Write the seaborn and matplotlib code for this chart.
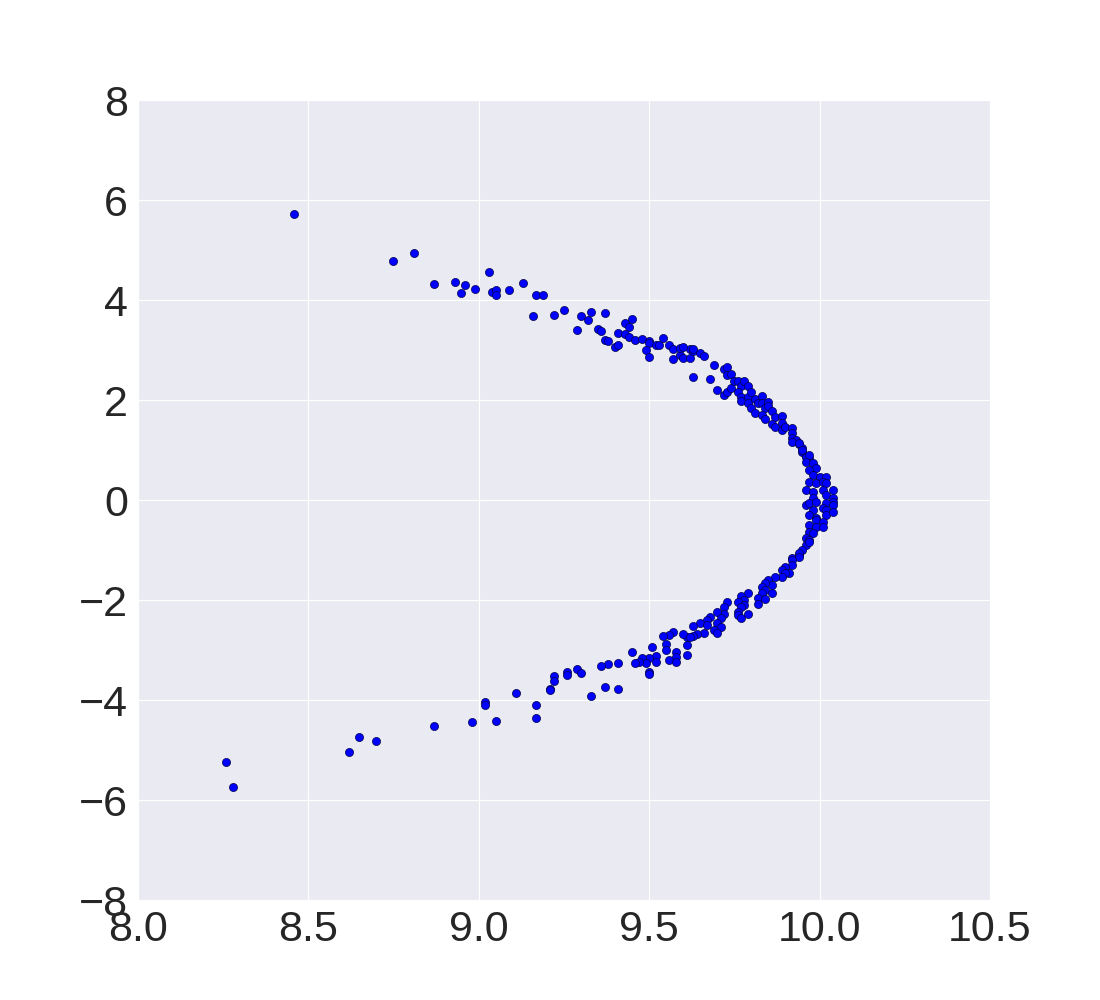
import numpy as np
import pandas as pd
import matplotlib
matplotlib.use("Agg")
import matplotlib.pyplot as plt
import seaborn as sns

sns.set_style("darkgrid")
plt.rcParams['font.family'] = ['Liberation Sans', 'DejaVu Sans']

# upper branch
x_upper = [8.46, 8.75, 8.81, 8.87, 8.93, 8.95, 8.96, 8.99, 9.03, 9.04, 9.05, 9.05, 9.09,
           9.13, 9.17, 9.19, 9.16, 9.22, 9.25, 9.29, 9.30, 9.32, 9.33, 9.35, 9.36, 9.37,
           9.37, 9.38, 9.40, 9.41, 9.41, 9.43, 9.44, 9.43, 9.44, 9.45, 9.46, 9.48, 9.50,
           9.50, 9.49, 9.50, 9.52, 9.53, 9.54, 9.56, 9.57, 9.57, 9.59, 9.59, 9.60, 9.62,
           9.62, 9.63, 9.65, 9.63, 9.60, 9.63, 9.66, 9.69, 9.72, 9.73, 9.73, 9.74, 9.68,
           9.70, 9.72, 9.73, 9.74, 9.75, 9.76, 9.77, 9.78, 9.79, 9.76, 9.77, 9.77, 9.79,
           9.79, 9.80, 9.81, 9.80, 9.81, 9.82, 9.83, 9.83, 9.84, 9.85, 9.85, 9.83, 9.84,
           9.86, 9.87, 9.89, 9.86, 9.87, 9.89, 9.89, 9.90, 9.92, 9.92, 9.92, 9.93, 9.94,
           9.95, 9.95, 9.96, 9.97]
y_upper = [5.72, 4.78, 4.94, 4.32, 4.36, 4.14, 4.30, 4.22, 4.56, 4.16, 4.20, 4.10, 4.20,
           4.34, 4.10, 4.10, 3.68, 3.70, 3.80, 3.40, 3.68, 3.60, 3.76, 3.42, 3.38, 3.74,
           3.20, 3.18, 3.06, 3.10, 3.34, 3.54, 3.46, 3.32, 3.26, 3.62, 3.20, 3.22, 3.18,
           3.14, 3.00, 2.86, 3.10, 3.10, 3.24, 3.10, 3.02, 2.82, 2.90, 3.04, 2.84, 2.84,
           3.02, 2.98, 2.94, 2.46, 3.06, 3.02, 2.88, 2.70, 2.62, 2.66, 2.50, 2.52, 2.42,
           2.20, 2.10, 2.16, 2.24, 2.38, 2.38, 2.28, 2.38, 2.28, 2.16, 2.06, 1.98, 2.06,
           1.94, 2.16, 2.02, 1.84, 1.74, 1.94, 2.08, 1.94, 1.84, 1.96, 1.88, 1.70, 1.62,
           1.78, 1.66, 1.68, 1.52, 1.46, 1.54, 1.40, 1.46, 1.44, 1.34, 1.24, 1.20, 1.12,
           1.04, 0.96, 0.88, 0.84]

# tip of the curve
x_tip = [9.92, 9.94, 9.95, 9.96, 9.97, 9.96, 9.98, 9.99, 9.97, 9.98, 10.00, 10.02, 9.97,
         9.99, 10.01, 10.02, 9.96, 9.98, 10.01, 10.04, 10.02, 10.04, 10.04, 9.98, 9.96,
         9.97, 9.99, 10.02, 10.04, 9.98, 10.01, 10.02, 9.97, 9.99, 10.02, 10.04, 9.99,
         10.01, 9.97, 9.99, 10.01, 9.97, 9.98, 9.96, 9.97, 9.96, 9.95, 9.94, 9.92]
y_tip = [1.16, 1.14, 1.00, 0.86, 0.90, 0.76, 0.74, 0.64, 0.60, 0.50, 0.46, 0.46, 0.36,
         0.34, 0.36, 0.34, 0.20, 0.16, 0.20, 0.20, 0.10, 0.04, -0.04, 0.04, -0.10,
         -0.06, -0.04, -0.06, -0.10, -0.20, -0.16, -0.20, -0.30, -0.36, -0.30, -0.24,
         -0.40, -0.44, -0.50, -0.54, -0.54, -0.64, -0.66, -0.76, -0.80, -0.90, -1.00,
         -1.10, -1.16]

# lower branch
x_lower = [9.97, 9.94, 9.94, 9.92, 9.92, 9.90, 9.89, 9.91, 9.90, 9.89, 9.87, 9.85, 9.86,
           9.84, 9.83, 9.84, 9.86, 9.83, 9.82, 9.84, 9.82, 9.79, 9.77, 9.78, 9.76, 9.78,
           9.77, 9.73, 9.72, 9.72, 9.70, 9.68, 9.71, 9.76, 9.76, 9.77, 9.79, 9.67, 9.65,
           9.63, 9.67, 9.70, 9.71, 9.69, 9.70, 9.66, 9.64, 9.63, 9.61, 9.60, 9.61, 9.61,
           9.62, 9.57, 9.56, 9.54, 9.55, 9.55, 9.58, 9.58, 9.56, 9.58, 9.52, 9.52, 9.51,
           9.50, 9.48, 9.49, 9.47, 9.46, 9.45, 9.50, 9.50, 9.41, 9.38, 9.36, 9.37, 9.41,
           9.33, 9.29, 9.30, 9.26, 9.26, 9.22, 9.22, 9.21, 9.21, 9.11, 9.17, 9.17, 8.26,
           8.28, 8.62, 8.65, 8.70, 8.87, 8.98, 9.02, 9.02, 9.05]
y_lower = [-0.84, -1.06, -1.14, -1.20, -1.30, -1.34, -1.40, -1.46, -1.46, -1.54, -1.54,
           -1.60, -1.70, -1.66, -1.74, -1.80, -1.86, -1.86, -1.96, -1.98, -2.08, -1.86,
           -1.92, -2.00, -2.04, -2.10, -2.14, -2.04, -2.14, -2.28, -2.24, -2.34, -2.36,
           -2.24, -2.30, -2.36, -2.28, -2.40, -2.46, -2.52, -2.50, -2.46, -2.54, -2.60,
           -2.66, -2.66, -2.68, -2.72, -2.74, -2.68, -2.90, -3.10, -2.74, -2.64, -2.70,
           -2.72, -2.88, -3.00, -3.04, -3.14, -3.20, -3.24, -3.12, -3.24, -2.94, -3.16,
           -3.16, -3.26, -3.24, -3.26, -3.04, -3.44, -3.48, -3.26, -3.28, -3.32, -3.74,
           -3.78, -3.92, -3.38, -3.46, -3.44, -3.50, -3.52, -3.62, -3.78, -3.80, -3.86,
           -4.10, -4.36, -5.24, -5.74, -5.04, -4.74, -4.82, -4.52, -4.44, -4.04, -4.10,
           -4.42]

df = pd.DataFrame({
    "x": x_upper + x_tip + x_lower,
    "y": y_upper + y_tip + y_lower,
})

fig = plt.figure(figsize=(11, 10), dpi=100)
ax = fig.add_axes([0.125, 0.1, 0.775, 0.8])
sns.scatterplot(data=df, x="x", y="y", ax=ax, color="#0000ff", s=34,
                edgecolor="#000044", linewidth=0.5)

ax.set_xlim(8.0, 10.5)
ax.set_ylim(-8, 8)
ax.set_xticks(np.arange(8.0, 10.51, 0.5))
ax.set_xticklabels(["8.0", "8.5", "9.0", "9.5", "10.0", "10.5"])
ax.set_yticks(np.arange(-8, 9, 2))
ax.set_yticklabels(["\u22128", "\u22126", "\u22124", "\u22122", "0", "2", "4", "6", "8"])
ax.tick_params(labelsize=31, pad=7, colors="#262626", length=0)
ax.set_xlabel("")
ax.set_ylabel("")

fig.savefig("out.png", dpi=100)
